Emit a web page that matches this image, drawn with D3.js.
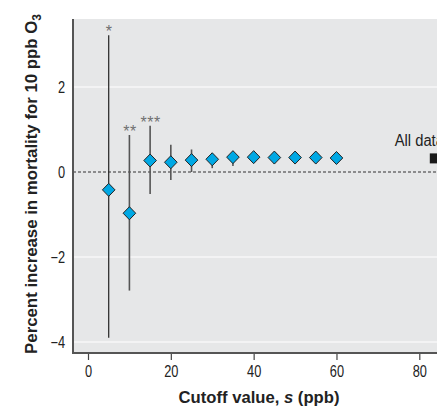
<!DOCTYPE html>
<html>
<head>
<meta charset="utf-8">
<script src="https://cdn.jsdelivr.net/npm/d3@7"></script>
<style>
	body { margin: 0; background: #fff; }
	svg { display: block; font-family: "Liberation Sans", Arial, sans-serif; }
	.tick text { fill: #222; }
	.axisLabel { font-weight: bold; fill: #222; }
</style>
</head>
<body>
<svg class="chart"></svg>
<script>
// cutoff values (ppb) and estimates with 95% intervals
var cutoffs = [5, 10, 15, 20, 25, 30, 35, 40, 45, 50, 55, 60];
var estimate = [-0.42, -0.97, 0.27, 0.23, 0.28, 0.30, 0.35, 0.35, 0.34, 0.34, 0.34, 0.33];
var lower = [-3.90, -2.79, -0.52, -0.19, 0.00, 0.09, 0.14, 0.21, 0.20, 0.22, 0.22, 0.22];
var upper = [3.22, 0.87, 1.09, 0.64, 0.53, 0.44, 0.48, 0.47, 0.47, 0.45, 0.45, 0.44];
var stars = ["*", "**", "***", "", "", "", "", "", "", "", "", ""];

var allDataLabel = "All data";
var allDataX = 83.5;
var allDataEstimate = 0.32;

var xTicks = [0, 20, 40, 60, 80];
var yTicks = [-4, -2, 0, 2];

var chartWidth = 437;
var chartHeight = 408;
var plotLeft = 73, plotTop = 19, plotBottom = 353, plotRight = 440;
var narrow = "scale(0.8,1)";

var svg = d3.select('.chart').attr("width", chartWidth).attr("height", chartHeight);

var x = d3.scaleLinear().domain([0, 80]).range([88, 419.3]);
var y = d3.scaleLinear().domain([0, 2]).range([172, 87]);

// grey panel
svg.append("rect")
	.attr("x", plotLeft).attr("y", plotTop)
	.attr("width", plotRight - plotLeft).attr("height", plotBottom - plotTop)
	.attr("fill", "#e6e7e8");

// white grid lines
svg.selectAll(".grid")
	.data(yTicks.filter(function(d) { return d !== 0; }))
	.enter().append("line")
	.attr("x1", plotLeft).attr("x2", plotRight)
	.attr("y1", function(d) { return y(d); })
	.attr("y2", function(d) { return y(d); })
	.attr("stroke", "#fff").attr("stroke-width", 1.2);

// dashed zero line
svg.append("line")
	.attr("x1", plotLeft).attr("x2", plotRight)
	.attr("y1", y(0)).attr("y2", y(0))
	.attr("stroke", "#333").attr("stroke-width", 1.2)
	.attr("stroke-dasharray", "3,2");

// y axis
var yAxis = svg.append("g")
	.attr("transform", "translate(" + plotLeft + ",0)")
	.call(d3.axisLeft(y).tickValues(yTicks).tickSize(0).tickPadding(10)
		.tickFormat(function(d) { return d < 0 ? "\u2212" + Math.abs(d) : d; }));
yAxis.select(".domain").remove();
yAxis.selectAll("text").attr("font-size", 16).attr("transform", narrow);

// x axis
var xAxis = svg.append("g")
	.attr("transform", "translate(0," + plotBottom + ")")
	.call(d3.axisBottom(x).tickValues(xTicks).tickSize(7).tickPadding(6));
xAxis.select(".domain").remove();
xAxis.selectAll("line").attr("stroke", "#444").attr("stroke-width", 1.2);
xAxis.selectAll("text").attr("font-size", 16).attr("transform", narrow);

// axis lines
svg.append("path")
	.attr("d", "M" + plotLeft + "," + plotTop + "V" + plotBottom + "H" + plotRight)
	.attr("fill", "none").attr("stroke", "#555").attr("stroke-width", 2);

// confidence intervals
svg.selectAll(".ci")
	.data(cutoffs)
	.enter().append("line")
	.attr("x1", function(d) { return x(d); })
	.attr("x2", function(d) { return x(d); })
	.attr("y1", function(d, i) { return y(lower[i]); })
	.attr("y2", function(d, i) { return y(upper[i]); })
	.attr("stroke", function(d, i) { return i === 0 ? "#222" : "#555"; })
	.attr("stroke-width", function(d, i) { return i === 0 ? 1.2 : 1.6; });

// asterisks
svg.selectAll(".star")
	.data(cutoffs)
	.enter().append("text")
	.attr("x", function(d) { return x(d) + 0.5; })
	.attr("y", function(d, i) { return y(upper[i]) + 2; })
	.attr("text-anchor", "middle")
	.attr("font-size", 16)
	.attr("letter-spacing", 0.5)
	.attr("fill", "#707070")
	.text(function(d, i) { return stars[i]; });

// diamonds
svg.selectAll(".pt")
	.data(cutoffs)
	.enter().append("path")
	.attr("d", "M0,-6.5L6.3,0L0,6.5L-6.3,0Z")
	.attr("transform", function(d, i) { return "translate(" + x(d) + "," + y(estimate[i]) + ")"; })
	.attr("fill", "#00a8e4")
	.attr("stroke", "#222").attr("stroke-width", 1);

// all data point
svg.append("rect")
	.attr("x", x(allDataX) - 4).attr("y", y(allDataEstimate) - 5)
	.attr("width", 8).attr("height", 10)
	.attr("fill", "#1a1a1a");
svg.append("text")
	.attr("transform", "translate(" + (x(allDataX) - 39) + "," + (y(allDataEstimate) - 12) + ") scale(0.92,1)")
	.attr("font-size", 16).attr("fill", "#222")
	.text(allDataLabel);

// axis titles, squeezed horizontally to look condensed
function squeeze(sel, cx, cy, rot, target) {
	var w = sel.node().getComputedTextLength();
	sel.attr("transform", "translate(" + cx + "," + cy + ") rotate(" + rot + ") scale(" + (target / w) + ",1)");
}

var xt = svg.append("text")
	.attr("class", "axisLabel")
	.attr("text-anchor", "middle")
	.attr("font-size", 17);
xt.append("tspan").text("Cutoff value, ");
xt.append("tspan").attr("font-style", "italic").text("s");
xt.append("tspan").text(" (ppb)");
squeeze(xt, 259, 403, 0, 161);

var yt = svg.append("text")
	.attr("class", "axisLabel")
	.attr("text-anchor", "middle")
	.attr("font-size", 17);
yt.append("tspan").text("Percent increase in mortality for 10 ppb O");
yt.append("tspan").attr("font-size", 12).attr("dy", 4).text("3");
squeeze(yt, 37, 184, -90, 340);
</script>
</body>
</html>
